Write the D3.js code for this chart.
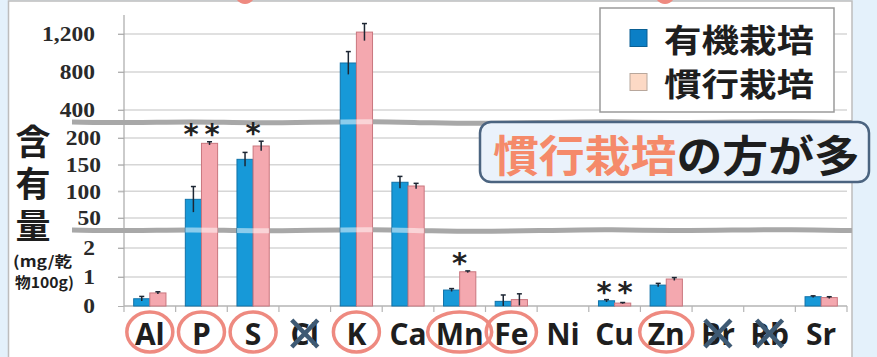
<!DOCTYPE html>
<html>
<head>
<meta charset="utf-8">
<script src="https://cdn.jsdelivr.net/npm/d3@7"></script>
<style>
  body { margin: 0; background: #e4f1fb; }
  svg { display: block; }
</style>
</head>
<body>
<svg id="chart" width="877" height="357"></svg>
<script>
// Mineral content (mg per 100 g dry matter): organic vs conventional cultivation
const elements = ["Al", "P", "S", "Cl", "K", "Ca", "Mn", "Fe", "Ni", "Cu", "Zn", "Br", "Rb", "Sr"];
const organic = [0.25, 85, 160, 0, 895, 117, 0.55, 0.16, 0, 0.18, 0.72, 0, 0, 0.32];
const organicErr = [0.08, 24, 13, 0, 120, 11, 0.05, 0.22, 0, 0.04, 0.06, 0, 0, 0.03];
const conventional = [0.45, 190, 185, 0, 1220, 110, 1.18, 0.22, 0, 0.1, 0.93, 0, 0, 0.29];
const conventionalErr = [0.04, 3, 9, 0, 90, 5, 0.03, 0.2, 0, 0.02, 0.05, 0, 0, 0.03];
const significance = ["", "**", "*", "", "", "", "*", "", "", "**", "", "", "", ""];
const circled = ["Al", "P", "S", "K", "Mn", "Fe", "Zn"];
const excluded = ["Cl", "Br", "Rb"];
const seriesNames = ["有機栽培", "慣行栽培"];
const ticksTop = [400, 800, 1200];
const ticksMid = [50, 100, 150, 200];
const ticksLow = [0, 1, 2];
const axisTitle = "含有量";
const unitLines = ["(mg/乾", "物100g)"];
const note = ["慣行栽培", "の方が多"];

const svg = d3.select("#chart");
const W = 877, H = 357;
const JP = "'Noto Sans CJK JP', 'Noto Sans', sans-serif";

// Background panel
svg.append("rect").attr("x", 0).attr("y", 0).attr("width", W).attr("height", H).attr("fill", "#e4f1fb");
svg.append("rect").attr("x", 8.5).attr("y", 1).attr("width", 843.5).attr("height", H + 10)
  .attr("fill", "#fff").attr("stroke", "#bdbdbd").attr("stroke-width", 1.5);

// Fragments of marks above the panel edge
[245, 665].forEach(cx => svg.append("ellipse").attr("cx", cx).attr("cy", -15).attr("rx", 11).attr("ry", 17)
  .attr("fill", "none").attr("stroke", "#ee8a80").attr("stroke-width", 4));

// Broken value axis: three linear pieces joined in one polylinear scale
const y = d3.scaleLinear()
  .domain([0, 2.62, 27.5, 230, 274, 1400])
  .range([306, 230, 230, 122, 122, 15]);

const x = d3.scaleBand().domain(elements).range([124, 847]);
const xs = d3.scaleBand().domain(["organic", "conventional"]).range([0, x.bandwidth()]).paddingOuter(0.6);

// Gridlines
const gridVals = ticksTop.concat(ticksMid, ticksLow.filter(v => v > 0));
svg.append("g").selectAll("line").data(gridVals).join("line")
  .attr("x1", 118).attr("x2", 847)
  .attr("y1", d => y(d)).attr("y2", d => y(d))
  .attr("stroke", "#d6d6d6").attr("stroke-width", 1.5);

// Value axes for each segment
function drawAxis(vals, pad) {
  const g = svg.append("g").attr("transform", "translate(124,0)")
    .call(d3.axisLeft(y).tickValues(vals).tickSize(6).tickPadding(pad).tickFormat(d3.format(",")));
  g.select(".domain").remove();
  g.selectAll(".tick line").attr("stroke", "#b0b0b0");
  g.selectAll(".tick text")
    .attr("font-family", "'Liberation Serif', serif").attr("font-weight", "bold")
    .attr("font-size", 21).attr("fill", "#2a2a2a")
    .each(function () {
      const t = d3.select(this);
      const xv = +t.attr("x");
      t.attr("x", 0).attr("transform", `translate(${xv},0) scale(1.12,1)`);
    });
}
drawAxis(ticksTop, 23);
drawAxis(ticksMid, 17);
drawAxis(ticksLow, 23);

svg.append("line").attr("x1", 124).attr("x2", 124).attr("y1", 15).attr("y2", 306)
  .attr("stroke", "#a8a8a8").attr("stroke-width", 1.2);

// Category axis
svg.append("line").attr("x1", 124).attr("x2", 847).attr("y1", y(0)).attr("y2", y(0))
  .attr("stroke", "#b5b5b5").attr("stroke-width", 1.5);
const bounds = elements.map(e => x(e)).concat([x.range()[1]]);
svg.append("g").selectAll("line").data(bounds).join("line")
  .attr("x1", d => d).attr("x2", d => d).attr("y1", y(0)).attr("y2", y(0) + 6)
  .attr("stroke", "#b5b5b5").attr("stroke-width", 1.2);

// Axis-break bands
const wobble = [0, 0.8, -0.6, 1.2, 0.2, -0.8, 1.0, 1.6, 0.3, -0.5, 0.9, 0.1, -0.7, 0.6];
function bandPath(yc) {
  const pts = wobble.map((o, i) => [72 + i * 60, yc + o]);
  return d3.line().curve(d3.curveBasis)(pts);
}
const breakYs = [y(250), y(10)];
breakYs.forEach(yc => svg.append("path").attr("d", bandPath(yc)).attr("fill", "none")
  .attr("stroke", "#a8a8a8").attr("stroke-width", 5));

// Bars
const rows = elements.map((e, i) => ({
  e, i,
  vals: [
    { k: "organic", v: organic[i], err: organicErr[i] },
    { k: "conventional", v: conventional[i], err: conventionalErr[i] }
  ]
}));
const fill = { organic: "#1799d8", conventional: "#f4a8af" };
const edge = { organic: "#1172a8", conventional: "#c9767e" };

const barData = rows.flatMap(r => r.vals.map(d => Object.assign({ e: r.e }, d))).filter(d => d.v > 0);

svg.append("g").selectAll("rect").data(barData).join("rect")
  .attr("x", d => x(d.e) + xs(d.k))
  .attr("y", d => y(d.v))
  .attr("width", xs.bandwidth())
  .attr("height", d => y(0) - y(d.v))
  .attr("fill", d => fill[d.k]).attr("stroke", d => edge[d.k]).attr("stroke-width", 1);

// Bands fade the bars where they cross
const clip = svg.append("defs").append("clipPath").attr("id", "barclip");
clip.selectAll("rect").data(barData).join("rect")
  .attr("x", d => x(d.e) + xs(d.k)).attr("y", d => y(d.v))
  .attr("width", xs.bandwidth()).attr("height", d => y(0) - y(d.v));
breakYs.forEach(yc => svg.append("path").attr("d", bandPath(yc)).attr("fill", "none")
  .attr("clip-path", "url(#barclip)")
  .attr("stroke", "#ffffff").attr("stroke-opacity", 0.5).attr("stroke-width", 5));

// Error bars
const errG = svg.append("g").attr("stroke", "#1d2633").attr("stroke-width", 1.5);
barData.filter(d => d.err > 0).forEach(d => {
  const cx = x(d.e) + xs(d.k) + xs.bandwidth() / 2;
  const y1 = y(Math.max(0, d.v - d.err)), y2 = y(d.v + d.err);
  errG.append("line").attr("x1", cx).attr("x2", cx).attr("y1", y1).attr("y2", y2);
  errG.append("line").attr("x1", cx - 2.5).attr("x2", cx + 2.5).attr("y1", y2).attr("y2", y2);
});

// Significance marks
rows.forEach(r => {
  const s = significance[r.i];
  if (!s) return;
  const top = d3.max(r.vals, d => d.v + d.err);
  const cy = y(top) - 12;
  const cx = x(r.e) + x.bandwidth() / 2;
  s.split("").forEach((c, j) => {
    svg.append("text").attr("x", cx + (j - (s.length - 1) / 2) * 21).attr("y", cy + 14)
      .attr("text-anchor", "middle").attr("font-family", "'DejaVu Sans', sans-serif")
      .attr("font-weight", "bold").attr("font-size", 29).attr("fill", "#222").text(c);
  });
});

// Category labels
const lab = svg.append("g").selectAll("text").data(elements).join("text")
  .attr("x", d => x(d) + x.bandwidth() / 2).attr("y", 345)
  .attr("text-anchor", "middle").attr("font-family", "'Open Sans', sans-serif")
  .attr("font-weight", 700).attr("font-size", 30).attr("fill", "#1e1e1e")
  .text(d => d);

lab.each(function (d) {
  const cx = x(d) + x.bandwidth() / 2;
  if (circled.includes(d)) {
    const w = this.getComputedTextLength();
    svg.append("ellipse").attr("cx", cx).attr("cy", 332)
      .attr("rx", Math.max(23, w / 2 + 8)).attr("ry", 20)
      .attr("fill", "none").attr("stroke", "#ee8a80").attr("stroke-width", 3.5);
  }
  if (excluded.includes(d)) {
    const g = svg.append("g").attr("stroke", "#3e5a74").attr("stroke-width", 4.5);
    g.append("line").attr("x1", cx - 13).attr("x2", cx + 13).attr("y1", 320).attr("y2", 347);
    g.append("line").attr("x1", cx + 13).attr("x2", cx - 13).attr("y1", 320).attr("y2", 347);
  }
});

// Axis title, set vertically
svg.append("text").attr("x", 33).attr("y", 124)
  .attr("writing-mode", "vertical-rl").attr("text-orientation", "upright")
  .attr("letter-spacing", 7)
  .attr("font-family", JP).attr("font-weight", 700).attr("font-size", 35).attr("fill", "#1e1e1e")
  .text(axisTitle);
const unit = svg.append("text")
  .attr("font-family", JP).attr("font-weight", 700).attr("font-size", 15).attr("fill", "#1e1e1e");
const unitY = [267, 288];
const unitX = [13, 15];
unitLines.forEach((t, i) => unit.append("tspan").attr("x", unitX[i]).attr("y", unitY[i])
  .attr("textLength", 59).attr("lengthAdjust", "spacingAndGlyphs").text(t));

// Legend
const leg = svg.append("g");
leg.append("rect").attr("x", 600).attr("y", 8).attr("width", 234).attr("height", 104)
  .attr("fill", "#fff").attr("stroke", "#9a9a9a").attr("stroke-width", 1.5);
const legFill = ["#0b7fc6", "#fcd9c5"];
const legEdge = ["#0a5f93", "#b8a79c"];
seriesNames.forEach((n, i) => {
  const yc = 38 + i * 44;
  leg.append("rect").attr("x", 630).attr("y", yc - 8.5).attr("width", 17).attr("height", 17)
    .attr("fill", legFill[i]).attr("stroke", legEdge[i]).attr("stroke-width", 1);
  leg.append("text").attr("x", 664).attr("y", yc).attr("dominant-baseline", "central")
    .attr("textLength", 150).attr("lengthAdjust", "spacingAndGlyphs")
    .attr("font-family", JP).attr("font-weight", 700).attr("font-size", 32).attr("fill", "#1e1e1e").text(n);
});

// Callout
svg.append("rect").attr("x", 480).attr("y", 122).attr("width", 389).attr("height", 60).attr("rx", 11)
  .attr("fill", "#eaf2fb").attr("stroke", "#4b6480").attr("stroke-width", 2.5);
const ct = svg.append("text").attr("x", 493).attr("y", 153).attr("dominant-baseline", "central")
  .attr("textLength", 367).attr("lengthAdjust", "spacingAndGlyphs")
  .attr("font-family", JP).attr("font-weight", 700).attr("font-size", 43);
ct.append("tspan").attr("fill", "#f58a6a").text(note[0]);
ct.append("tspan").attr("fill", "#1e1e1e").text(note[1]);
</script>
</body>
</html>
